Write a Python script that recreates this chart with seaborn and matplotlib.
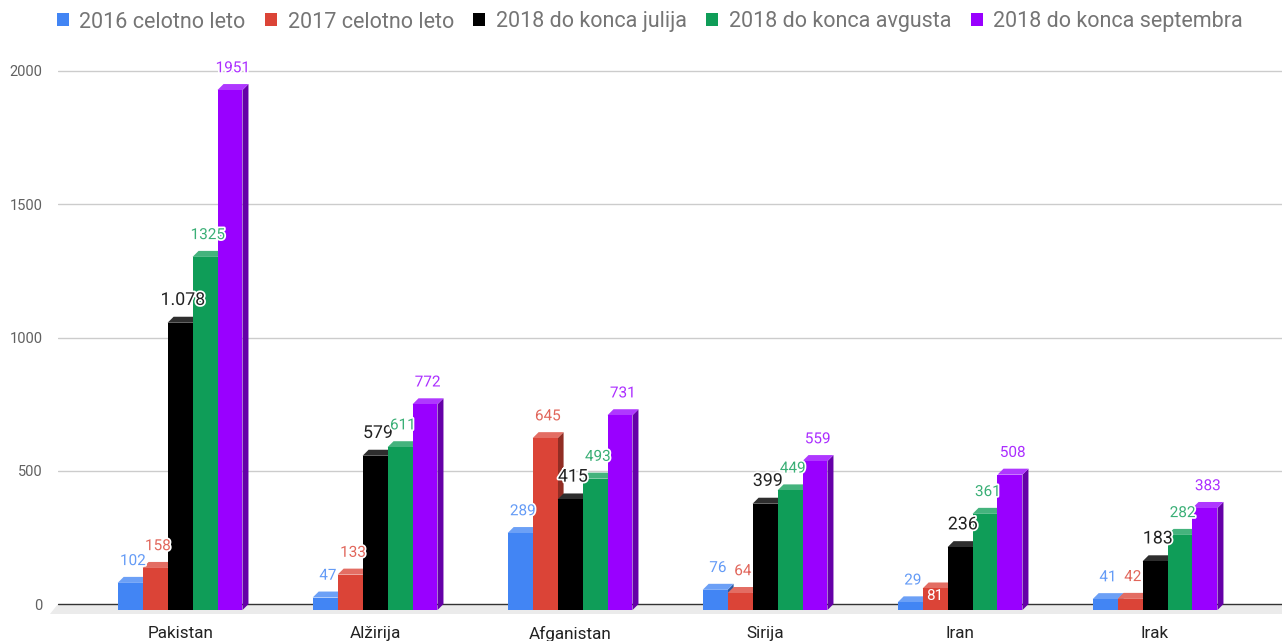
import numpy as np
import pandas as pd
import seaborn as sns
import matplotlib
matplotlib.use("Agg")
import matplotlib.pyplot as plt
from matplotlib.patches import Polygon, Patch
import matplotlib.transforms as mtransforms
import matplotlib.patheffects as pe
from matplotlib.colors import to_rgb

# ---------------- data ----------------
countries = ["Pakistan", "Alžirija", "Afganistan", "Sirija", "Iran", "Irak"]
series = ["2016 celotno leto", "2017 celotno leto", "2018 do konca julija",
          "2018 do konca avgusta", "2018 do konca septembra"]
v2016 = [102, 47, 289, 76, 29, 41]
v2017 = [158, 133, 645, 64, 81, 42]
v2018_jul = [1078, 579, 415, 399, 236, 183]
v2018_avg = [1325, 611, 493, 449, 361, 282]
v2018_sep = [1951, 772, 731, 559, 508, 383]
yticks = [0, 500, 1000, 1500, 2000]
colors = ["#4285F4", "#DB4437", "#000000", "#0F9D58", "#9900FF"]

all_vals = [v2016, v2017, v2018_jul, v2018_avg, v2018_sep]
rows = []
for s, vals in zip(series, all_vals):
    for c, v in zip(countries, vals):
        rows.append({"country": c, "series": s, "value": v})
df = pd.DataFrame(rows)

sns.set_theme(style="white")
plt.rcParams["font.family"] = ["Roboto", "DejaVu Sans"]

W, H = 1282, 641
fig = plt.figure(figsize=(W / 100, H / 100), dpi=100)
ax_l, ax_r, ax_top, ax_bot = 58, 1282, 55, 615   # pixel box (from top)
ax = fig.add_axes([ax_l / W, (H - ax_bot) / H, (ax_r - ax_l) / W, (ax_bot - ax_top) / H])

sns.barplot(data=df, x="country", y="value", hue="series", hue_order=series,
            order=countries, palette=colors, width=0.64, gap=0, saturation=1,
            legend=False, linewidth=0, edgecolor="none", errorbar=None, ax=ax)

ax.set_xlim(-0.626, 5.651)
ax.set_ylim(-41, 2060)
for sp in ax.spines.values():
    sp.set_visible(False)

# grid lines
for t in yticks:
    ax.axhline(t, color="#333333" if t == 0 else "#cccccc", lw=1.0, zorder=0.5)
ax.set_yticks(yticks)
ax.set_yticklabels([str(t) for t in yticks], color="#616161", fontsize=10.5)
ax.tick_params(axis="y", length=0, pad=11)
ax.tick_params(axis="x", length=0, pad=8, labelsize=12.3, labelcolor="#222222")
ax.set_xlabel("")
ax.set_ylabel("")

fig.canvas.draw()
DX, DY = 6, 6      # 3D depth in pixels
SHIFT = 6          # front face shifted down in pixels
to_px = ax.transData.transform
to_data = ax.transData.inverted().transform

# floor band
p0 = to_px((0, 0))
fx0 = to_px((-0.626, 0))[0]
floor_px = np.array([[fx0, p0[1]], [ax_r, p0[1]], [ax_r, p0[1] - 10], [fx0 - 8, p0[1] - 10]])
ax.add_patch(Polygon(to_data(floor_px), closed=True, facecolor="#ebebeb",
                     edgecolor="none", zorder=0.4, clip_on=False))

front_tf = mtransforms.offset_copy(ax.transData, fig=fig, x=0, y=-SHIFT, units="dots")


def lighten(c, f):
    r = np.array(to_rgb(c))
    return tuple(r + (1 - r) * f)


def darken(c, f):
    return tuple(np.array(to_rgb(c)) * f)


halo = [pe.withStroke(linewidth=2.5, foreground="white")]

for k, (cont, col, vals) in enumerate(zip(ax.containers, colors, all_vals)):
    top_col = "#2e2e2e" if col == "#000000" else lighten(col, 0.22)
    side_col = "#1c1c1c" if col == "#000000" else darken(col, 0.66)
    lab_col = "#222222" if col == "#000000" else lighten(col, 0.18)
    for i, bar in enumerate(cont):
        bar.set_transform(front_tf)
        bar.set_zorder(2 + k * 0.1 + 0.05)
        x0, w, h = bar.get_x(), bar.get_width(), bar.get_height()
        (px0, py0) = to_px((x0, 0))
        (px1, py1) = to_px((x0 + w, h))
        py0 -= SHIFT
        py1 -= SHIFT
        side = np.array([[px1, py0], [px1, py1], [px1 + DX, py1 + DY], [px1 + DX, py0 + DY]])
        top = np.array([[px0, py1], [px1, py1], [px1 + DX, py1 + DY], [px0 + DX, py1 + DY]])
        ax.add_patch(Polygon(to_data(side), closed=True, facecolor=side_col,
                             edgecolor="none", zorder=2 + k * 0.1))
        ax.add_patch(Polygon(to_data(top), closed=True, facecolor=top_col,
                             edgecolor="none", zorder=2 + k * 0.1))
        # label
        v = vals[i]
        big = col == "#000000"
        txt = f"{v:,}".replace(",", ".") if big else str(v)
        cx = x0 + w / 2
        if countries[i] == "Iran" and series[k] == "2017 celotno leto":
            ax.annotate(txt, (cx, 0), xytext=(0, 3), textcoords="offset points",
                        ha="center", va="baseline", color="white", fontsize=11, zorder=5)
        else:
            ax.annotate(txt, (cx, v), xytext=(2, 8.5), textcoords="offset points",
                        ha="center", va="baseline", color=lab_col,
                        fontsize=12.8 if big else 11, zorder=5, path_effects=halo)

handles = [Patch(facecolor=c, edgecolor="none") for c in colors]
fig.legend(handles, series, loc="center", bbox_to_anchor=(650 / W, 1 - 22 / H),
           ncol=5, frameon=False, fontsize=15.5, labelcolor="#757575",
           handlelength=0.55, handleheight=0.55, handletextpad=0.5, columnspacing=0.9,
           borderaxespad=0)

fig.savefig("out.png", dpi=100)
